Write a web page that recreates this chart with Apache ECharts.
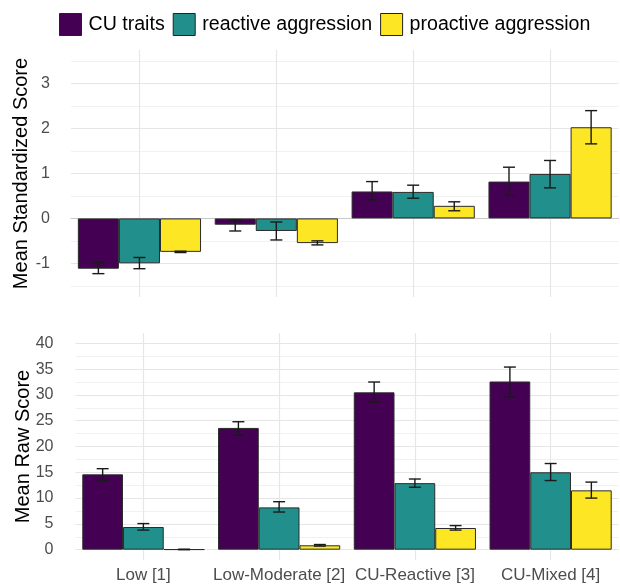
<!DOCTYPE html>
<html>
<head>
<meta charset="utf-8">
<script src="https://cdn.jsdelivr.net/npm/echarts@6/dist/echarts.min.js"></script>
<style>
  html, body { margin: 0; padding: 0; background: #ffffff; }
  #chart { width: 620px; height: 584px; }
</style>
</head>
<body>
<div id="chart"></div>
<script>
// ---- Data ----
const categories = ['Low [1]', 'Low-Moderate [2]', 'CU-Reactive [3]', 'CU-Mixed [4]'];
const seriesNames = ['CU traits', 'reactive aggression', 'proactive aggression'];
const seriesColors = ['#440154', '#21908C', '#FDE725'];

// Mean standardized scores
const stdCU = [-1.12, -0.14, 0.60, 0.82];
const stdReactive = [-1.00, -0.28, 0.59, 0.99];
const stdProactive = [-0.745, -0.55, 0.28, 2.03];
// Error bar bounds (standardized)
const stdCULow = [-1.23, -0.28, 0.41, 0.51];
const stdCUHigh = [-0.98, -0.04, 0.82, 1.14];
const stdReactiveLow = [-1.12, -0.48, 0.45, 0.68];
const stdReactiveHigh = [-0.87, -0.08, 0.74, 1.29];
const stdProactiveLow = [-0.76, -0.59, 0.17, 1.66];
const stdProactiveHigh = [-0.73, -0.50, 0.37, 2.40];

// Mean raw scores
const rawCU = [14.6, 23.6, 30.5, 32.6];
const rawReactive = [4.4, 8.2, 12.9, 15.0];
const rawProactive = [0.05, 0.85, 4.2, 11.5];
// Error bar bounds (raw)
const rawCULow = [13.4, 22.2, 28.6, 29.6];
const rawCUHigh = [15.7, 24.8, 32.5, 35.4];
const rawReactiveLow = [3.8, 7.3, 12.1, 13.4];
const rawReactiveHigh = [5.06, 9.3, 13.7, 16.7];
const rawProactiveLow = [0.0, 0.7, 3.8, 10.0];
const rawProactiveHigh = [0.1, 1.0, 4.67, 13.1];

// Axis tick labels
const stdTicks = [-1, 0, 1, 2, 3];
const rawTicks = [0, 5, 10, 15, 20, 25, 30, 35, 40];

// ---- Chart ----
const FONT = 'Liberation Sans, Arial, sans-serif';
const MAJOR = '#e6e6e6';
const MINOR = '#f1f1f1';
const T = 'rgba(0,0,0,0)';

const chart = echarts.init(document.getElementById('chart'), null, { renderer: 'canvas' });

function errRender(slot) {
  return function (params, api) {
    const x = api.value(0);
    const lo = api.value(1);
    const hi = api.value(2);
    const band = api.size([1, 0])[0];
    const pLo = api.coord([x, lo]);
    const pHi = api.coord([x, hi]);
    const cx = pLo[0] + (slot - 1) * 0.3 * band;
    const half = 0.044 * band;
    const style = { stroke: '#1a1a1a', lineWidth: 1.4 };
    return {
      type: 'group',
      children: [
        { type: 'line', shape: { x1: cx, y1: pLo[1], x2: cx, y2: pHi[1] }, style: style },
        { type: 'line', shape: { x1: cx - half, y1: pLo[1], x2: cx + half, y2: pLo[1] }, style: style },
        { type: 'line', shape: { x1: cx - half, y1: pHi[1], x2: cx + half, y2: pHi[1] }, style: style }
      ]
    };
  };
}

function zip3(lo, hi) {
  return categories.map(function (c, i) { return [i, lo[i], hi[i]]; });
}

const stdMeans = [stdCU, stdReactive, stdProactive];
const stdLows = [stdCULow, stdReactiveLow, stdProactiveLow];
const stdHighs = [stdCUHigh, stdReactiveHigh, stdProactiveHigh];
const rawMeans = [rawCU, rawReactive, rawProactive];
const rawLows = [rawCULow, rawReactiveLow, rawProactiveLow];
const rawHighs = [rawCUHigh, rawReactiveHigh, rawProactiveHigh];

const series = [];
[0, 1].forEach(function (g) {
  const means = g === 0 ? stdMeans : rawMeans;
  const lows = g === 0 ? stdLows : rawLows;
  const highs = g === 0 ? stdHighs : rawHighs;
  const xIdx = g === 0 ? 0 : 2;
  const yIdx = g === 0 ? 0 : 2;
  seriesNames.forEach(function (name, s) {
    series.push({
      name: name,
      type: 'bar',
      xAxisIndex: xIdx,
      yAxisIndex: yIdx,
      data: means[s],
      barCategoryGap: '10%',
      barGap: '0%',
      itemStyle: { color: seriesColors[s], borderColor: '#2b2b2b', borderWidth: 1 },
      emphasis: { disabled: true },
      animation: false,
      z: 2
    });
  });
  seriesNames.forEach(function (name, s) {
    series.push({
      name: name,
      type: 'custom',
      xAxisIndex: xIdx,
      yAxisIndex: yIdx,
      data: zip3(lows[s], highs[s]),
      encode: { x: 0, y: [1, 2] },
      renderItem: errRender(s),
      animation: false,
      silent: true,
      z: 5
    });
  });
});

const axisLabelStyle = { color: '#4d4d4d', fontSize: 16, fontFamily: FONT };
const titleStyle = { color: '#000000', fontSize: 20, fontFamily: FONT };

const option = {
  backgroundColor: '#ffffff',
  animation: false,
  textStyle: { fontFamily: FONT },
  legend: {
    data: seriesNames,
    top: 8,
    left: 54,
    icon: 'rect',
    itemWidth: 22,
    itemHeight: 22,
    itemGap: 8,
    itemStyle: { borderColor: '#222222', borderWidth: 1 },
    textStyle: { color: '#000000', fontSize: 19.6, fontFamily: FONT, padding: [0, 0, 0, 2] },
    selectedMode: false
  },
  grid: [
    { left: 71, top: 50, width: 547.5, height: 247, outerBoundsMode: 'none', containLabel: false },
    { left: 75.5, top: 333, width: 543, height: 227, outerBoundsMode: 'none', containLabel: false }
  ],
  xAxis: [
    { // 0: top categories
      type: 'category', gridIndex: 0, data: categories,
      axisLabel: { show: false }, axisTick: { show: false },
      axisLine: { show: true, onZero: true, onZeroAxisIndex: 0, lineStyle: { color: '#c8c8c8', width: 1.2 } },
      splitLine: { show: false }
    },
    { // 1: top vertical grid
      type: 'value', gridIndex: 0, min: 0, max: 4, interval: 0.5,
      show: true, axisLabel: { show: false }, axisTick: { show: false }, axisLine: { show: false },
      splitLine: { show: true, lineStyle: { color: [T, MAJOR], width: 1.2 } }
    },
    { // 2: bottom categories
      type: 'category', gridIndex: 1, data: categories,
      axisLabel: { show: true, margin: 7, color: '#4d4d4d', fontSize: 17, fontFamily: FONT, interval: 0 },
      axisTick: { show: false },
      axisLine: { show: false },
      splitLine: { show: false }
    },
    { // 3: bottom vertical grid
      type: 'value', gridIndex: 1, min: 0, max: 4, interval: 0.5,
      show: true, axisLabel: { show: false }, axisTick: { show: false }, axisLine: { show: false },
      splitLine: { show: true, lineStyle: { color: [T, MAJOR], width: 1.2 } }
    }
  ],
  yAxis: [
    { // 0: top major
      type: 'value', gridIndex: 0, min: -1.75, max: 3.75, interval: 0.25,
      name: 'Mean Standardized Score', nameLocation: 'middle', nameRotate: 90, nameGap: 40,
      nameMoveOverlap: false,
      nameTextStyle: titleStyle,
      axisLabel: Object.assign({ margin: 21, formatter: function (v) { return stdTicks.indexOf(v) >= 0 ? String(v) : ''; } }, axisLabelStyle),
      axisTick: { show: false }, axisLine: { show: false },
      splitLine: { show: true, lineStyle: { color: [T, T, T, MAJOR], width: 1.2 } }
    },
    { // 1: top minor
      type: 'value', gridIndex: 0, min: -1.75, max: 3.75, interval: 0.25, position: 'right',
      axisLabel: { show: false }, axisTick: { show: false }, axisLine: { show: false },
      splitLine: { show: true, lineStyle: { color: [T, MINOR, T, T], width: 1 } }
    },
    { // 2: bottom major
      type: 'value', gridIndex: 1, min: -2, max: 42, interval: 0.5,
      name: 'Mean Raw Score', nameLocation: 'middle', nameRotate: 90, nameGap: 42,
      nameMoveOverlap: false,
      nameTextStyle: titleStyle,
      axisLabel: Object.assign({ margin: 22, formatter: function (v) { return rawTicks.indexOf(v) >= 0 ? String(v) : ''; } }, axisLabelStyle),
      axisTick: { show: false }, axisLine: { show: false },
      splitLine: { show: true, lineStyle: { color: [T, T, T, T, MAJOR, T, T, T, T, MINOR], width: 1.2 } }
    },
    { // 3: bottom placeholder (no lines)
      type: 'value', gridIndex: 1, min: -2, max: 42, interval: 0.5, position: 'right',
      axisLabel: { show: false }, axisTick: { show: false }, axisLine: { show: false },
      splitLine: { show: false }
    }
  ],
  series: series
};

chart.setOption(option);
</script>
</body>
</html>
